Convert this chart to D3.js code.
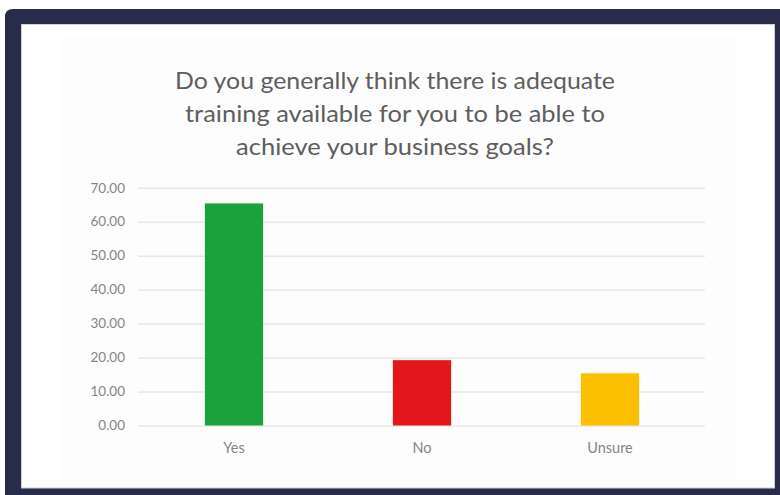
<!DOCTYPE html>
<html>
<head>
<meta charset="utf-8">
<script src="https://cdn.jsdelivr.net/npm/d3@7"></script>
<style>
  html, body { margin: 0; padding: 0; background: #ffffff; }
  svg { display: block; }
  text { font-family: Lato, "Open Sans", "Noto Sans", sans-serif; }
</style>
</head>
<body>
<div id="chart"></div>
<script>
// Survey answers (percent of respondents)
const categories = ["Yes", "No", "Unsure"];
const values = [65.38, 19.23, 15.38];
const barColors = ["#1ca23c", "#e3161b", "#fcc000"];
const yTicks = [0, 10, 20, 30, 40, 50, 60, 70];
const titleLines = [
  "Do you generally think there is adequate",
  "training available for you to be able to",
  "achieve your business goals?"
];
const titleWidths = [440, 420, 318];

const W = 780, H = 495;
const svg = d3.select("#chart").append("svg")
  .attr("width", W).attr("height", H);

// Dark navy frame with a rounded top-left corner
const frame = "M5,17 Q5,9 13,9 L" + (W + 10) + ",9 L" + (W + 10) + "," + (H + 10) + " L5," + (H + 10) + " Z";
svg.append("path").attr("d", frame).attr("fill", "#282c4a");

// White panel inside the frame
svg.append("rect")
  .attr("x", 21.5).attr("y", 24.5).attr("width", 753).attr("height", 463.5)
  .attr("fill", "#ffffff").attr("stroke", "#cfd0da").attr("stroke-width", 1);

// Chart area
svg.append("rect")
  .attr("x", 60).attr("y", 38).attr("width", 676).attr("height", 444)
  .attr("fill", "#fdfdfd");

// Title
const title = svg.append("g").attr("fill", "#5e5e5e");
titleLines.forEach((line, i) => {
  title.append("text")
    .attr("x", 395).attr("y", 89 + i * 33)
    .attr("text-anchor", "middle")
    .attr("font-size", 24)
    .attr("textLength", titleWidths[i])
    .attr("lengthAdjust", "spacingAndGlyphs")
    .text(line);
});

// Scales
const plotLeft = 138, plotRight = 705;
const x = d3.scaleBand()
  .domain(categories)
  .range([140, 704])
  .paddingInner(0.69)
  .paddingOuter(0.345);
const y = d3.scaleLinear().domain([0, 70]).range([425.5, 187.7]);

// Gridlines
svg.append("g")
  .selectAll("line")
  .data(yTicks)
  .join("line")
  .attr("x1", plotLeft).attr("x2", plotRight)
  .attr("y1", d => y(d) + 0.5).attr("y2", d => y(d) + 0.5)
  .attr("stroke", "#dcdcdc").attr("stroke-width", 1);

// Value axis labels
const yAxis = svg.append("g")
  .attr("transform", `translate(${plotLeft},0)`)
  .call(d3.axisLeft(y).tickValues(yTicks).tickFormat(d3.format(".2f")).tickSize(0).tickPadding(13));
yAxis.select(".domain").remove();
yAxis.selectAll("text")
  .attr("fill", "#858585")
  .attr("font-size", 13.5)
  .attr("font-family", "Lato, 'Open Sans', sans-serif");

// Bars
svg.append("g")
  .selectAll("rect")
  .data(categories)
  .join("rect")
  .attr("x", d => x(d))
  .attr("width", x.bandwidth())
  .attr("y", (d, i) => y(values[i]))
  .attr("height", (d, i) => y(0) - y(values[i]))
  .attr("fill", (d, i) => barColors[i]);

// Category axis labels
const xAxis = svg.append("g")
  .attr("transform", `translate(0,${y(0)})`)
  .call(d3.axisBottom(x).tickSize(0).tickPadding(17));
xAxis.select(".domain").remove();
xAxis.selectAll("text")
  .attr("fill", "#858585")
  .attr("font-size", 14.5)
  .attr("font-family", "Lato, 'Open Sans', sans-serif");
</script>
</body>
</html>
